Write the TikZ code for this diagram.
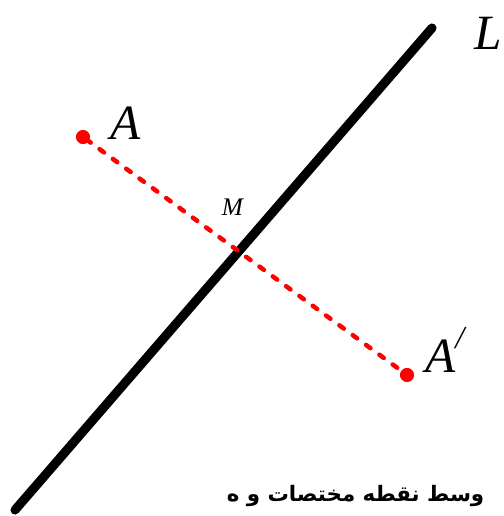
\documentclass[tikz,border=0pt]{standalone}
\usepackage{fontspec}
\setmainfont{Liberation Serif}
\newfontfamily\arabicfont[Script=Arabic]{DejaVu Sans}
\TeXXeTstate=1
\usetikzlibrary{calc}
\definecolor{pointred}{HTML}{FF0000}

\begin{document}
\begin{tikzpicture}[x=0.75pt,y=-0.75pt]
  \useasboundingbox (0,0) rectangle (503,516);
  % mirror line L and the two points
  \coordinate (Lbot) at (15,510);
  \coordinate (Ltop) at (432,28);
  \coordinate (pA) at (83,137);
  \coordinate (pAp) at (407,375);
  \coordinate (pM) at ($(pA)!0.5!(pAp)$);
  \draw[line width=6.8pt,line cap=round] (Lbot) -- (Ltop);
  \draw[pointred,line width=3.4pt,line cap=round,dash pattern=on 4.1pt off 8.3pt,dash phase=-3pt] (pA) -- (pAp);
  \foreach \p in {pA,pAp}{\fill[pointred] (\p) circle (5.3pt);}
  \node (labL) at (488,33) {\fontsize{37}{37}\selectfont\textit{L}};
  \node (labA) at (126,123) {\fontsize{37}{37}\selectfont\textit{A}};
  \node (labAp) at (446,350) {\fontsize{37}{37}\selectfont\textit{A}\raisebox{0.5em}{\fontsize{24}{24}\selectfont\textit{/}}};
  \node (labM) at (233,207) {\fontsize{19}{19}\selectfont\textit{M}};
  \node[anchor=east] (caption) at (489,496) {\arabicfont\fontsize{16}{16}\selectfont\bfseries\beginR وسط نقطه مختصات و ه\endR};
\end{tikzpicture}
\end{document}
